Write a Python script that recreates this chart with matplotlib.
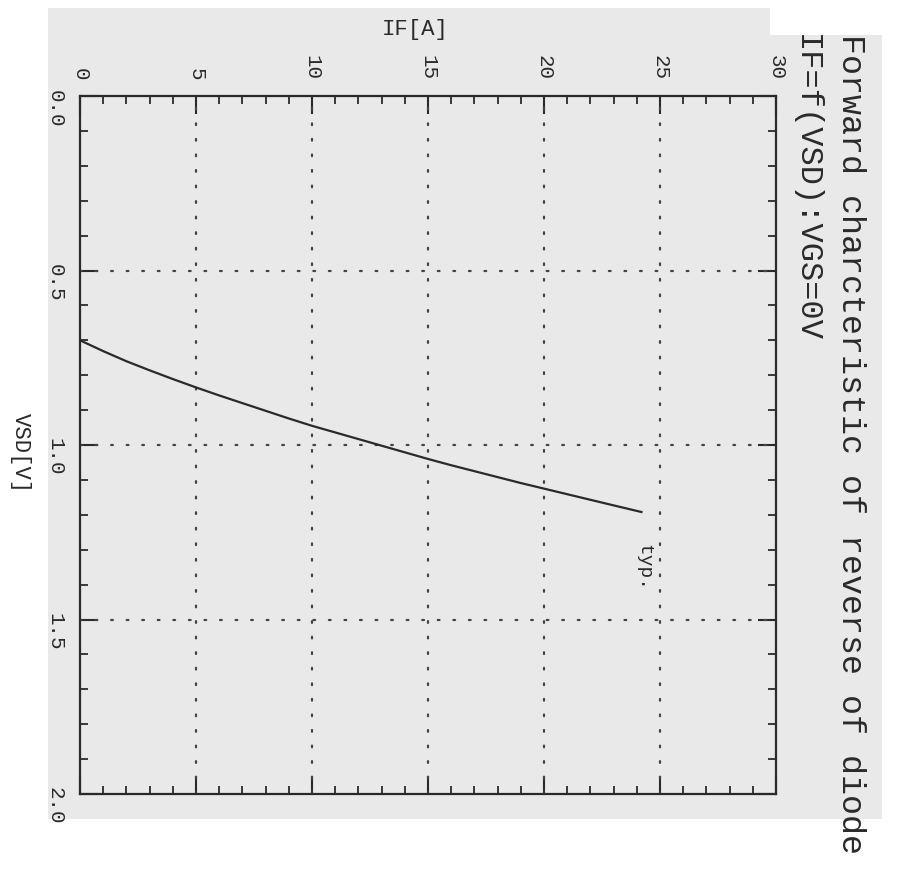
"""Rotated scan of a diode forward characteristic: IF = f(VSD), VGS = 0 V."""

import matplotlib

matplotlib.use("Agg")
import matplotlib.pyplot as plt  # noqa: E402
from matplotlib.patches import Rectangle  # noqa: E402
from matplotlib.ticker import MultipleLocator  # noqa: E402

# typical curve
if_amps = [0.0, 1.0, 2.0, 3.0, 4.0, 5.0, 6.0, 7.0, 8.0, 9.0, 10.0, 11.0, 12.0,
           13.0, 14.0, 15.0, 16.0, 17.0, 18.0, 19.0, 20.0, 21.0, 22.0, 23.0, 24.2]
vsd_volts = [0.700, 0.731, 0.760, 0.786, 0.811, 0.835, 0.858, 0.880, 0.902, 0.924,
             0.945, 0.964, 0.983, 1.002, 1.021, 1.040, 1.058, 1.075, 1.092, 1.109,
             1.125, 1.141, 1.157, 1.173, 1.192]

if_ticks = [0, 5, 10, 15, 20, 25, 30]
vsd_ticks = [0.0, 0.5, 1.0, 1.5, 2.0]

title_1 = "Forward charcteristic of reverse of diode"
title_2 = "IF=f(VSD):VGS=0V"

INK = "#2a2a2a"
PAPER = "#e9e9e9"
MONO = "Liberation Mono"

fig = plt.figure(figsize=(8.97, 8.70), dpi=100, facecolor="white")

# grey scanned sheet behind the chart
fig.patches.append(Rectangle((48 / 897, 1 - 820 / 870), (882 - 48) / 897, (820 - 9) / 870,
                             transform=fig.transFigure, facecolor=PAPER, edgecolor="none", zorder=-2))
fig.patches.append(Rectangle((770 / 897, 1 - 36 / 870), 127 / 897, 36 / 870,
                             transform=fig.transFigure, facecolor="white", edgecolor="none", zorder=-1))

ax = fig.add_axes([80 / 897, 75 / 870, 696 / 897, 698 / 870])
ax.set_facecolor(PAPER)
ax.set_xlim(0, 30)
ax.set_ylim(2.0, 0.0)

ax.plot(if_amps, vsd_volts, color=INK, linewidth=1.6, zorder=3)
ax.text(24.3, 1.28, "typ.", rotation=-90, ha="center", va="top",
        fontsize=14, family=MONO, color=INK)

# dotted grid on the major divisions only
for v in if_ticks[1:-1]:
    ax.axvline(v, color="#444444", linewidth=1.6, linestyle=(0, (0.8, 6.2)),
               dash_capstyle="round", zorder=2)
for v in vsd_ticks[1:-1]:
    ax.axhline(v, color="#444444", linewidth=1.6, linestyle=(0, (0.8, 6.2)),
               dash_capstyle="round", zorder=2)

ax.xaxis.set_major_locator(MultipleLocator(5))
ax.xaxis.set_minor_locator(MultipleLocator(1))
ax.yaxis.set_major_locator(MultipleLocator(0.5))
ax.yaxis.set_minor_locator(MultipleLocator(0.1))
ax.set_xticks(if_ticks)
ax.set_xticklabels([str(v) for v in if_ticks])
ax.set_yticks(vsd_ticks)
ax.set_yticklabels([f"{v:.1f}" for v in vsd_ticks])

ax.tick_params(which="both", direction="in", top=True, bottom=True, left=True, right=True,
               labeltop=True, labelbottom=False, color=INK)
ax.tick_params(which="major", length=13, width=1.5)
ax.tick_params(which="minor", length=6, width=1.3)
ax.tick_params(axis="x", which="major", pad=12, labelsize=15, labelcolor=INK)
ax.tick_params(axis="y", which="major", pad=11, labelsize=15, labelcolor=INK)
for lab in ax.get_xticklabels() + ax.get_yticklabels():
    lab.set_rotation(-90)
    lab.set_family(MONO)

for sp in ax.spines.values():
    sp.set_linewidth(1.6)
    sp.set_color(INK)

ax.xaxis.set_label_position("top")
ax.set_xlabel("IF[A]", fontsize=16, family=MONO, color=INK)
ax.xaxis.set_label_coords(0.481, 1.089)
ax.set_ylabel("VSD[V]", fontsize=16, family=MONO, color=INK, rotation=-90,
              ha="center", va="center")
ax.yaxis.set_label_coords(-0.086, 0.49)

fig.text(850 / 897, 1 - 34 / 870, title_1, rotation=-90, ha="center", va="top",
         fontsize=24, family=MONO, color=INK)
fig.text(806 / 897, 1 - 34 / 870, title_2, rotation=-90, ha="center", va="top",
         fontsize=23, family=MONO, color=INK)

fig.savefig("out.png", dpi=100, facecolor="white")
